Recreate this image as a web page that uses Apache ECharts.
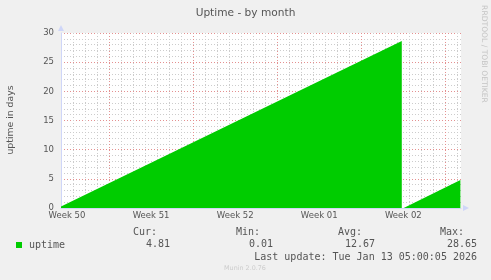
<!DOCTYPE html>
<html>
<head>
<meta charset="utf-8">
<script src="https://cdn.jsdelivr.net/npm/echarts@6/dist/echarts.min.js"></script>
<style>
html,body{margin:0;padding:0;background:#f0f0f0;}
#chart{width:491px;height:280px;}
</style>
</head>
<body>
<div id="chart"></div>
<script>
// ---- data ----
const titleText = 'Uptime - by month';
const yAxisName = 'uptime in days';
const seriesName = 'uptime';
// time in days since Mon 8 Dec 2025 (start of week 50)
const xDays = [3.0, 31.37, 31.4, 31.53, 36.25];
const uptimeDays = [0.25, 28.65, null, 0.01, 4.81];
const weekBoundaries = [7, 14, 21, 28, 35];
const weekCenters = [3.5, 10.5, 17.5, 24.5, 31.5];
const weekLabels = ['Week 50', 'Week 51', 'Week 52', 'Week 01', 'Week 02'];
const statLabels = ['Cur:', 'Min:', 'Avg:', 'Max:'];
const statValues = ['4.81', '0.01', '12.67', '28.65'];
const lastUpdate = 'Last update: Tue Jan 13 05:00:05 2026';
const sideText = 'RRDTOOL / TOBI OETIKER';
const footer = 'Munin 2.0.76';

// ---- styles ----
const GRAY = '#cccccc';
const RED = '#e49090';
const RED_V = '#e49090';
const AXIS = '#CFD6F8';
const FONT = 'DejaVu Sans';
const MONO = 'DejaVu Sans Mono';
const TXT = '#555555';
const DOT = [1, 2];

const chart = echarts.init(document.getElementById('chart'), null, {renderer: 'canvas'});
const seriesData = xDays.map((x, i) => [x, uptimeDays[i]]);

const statGraphics = [];
const headerRight = [157, 260, 362, 464];
const valueRight = [170, 273, 375, 477];
statLabels.forEach((s, i) => {
  statGraphics.push({type: 'text', x: headerRight[i], y: 232.5,
    style: {text: s, font: '10px "' + MONO + '"', fill: TXT, align: 'right', verticalAlign: 'middle'}});
  statGraphics.push({type: 'text', x: valueRight[i], y: 244,
    style: {text: statValues[i], font: '10px "' + MONO + '"', fill: TXT, align: 'right', verticalAlign: 'middle'}});
});

const X_MIN = 3, X_MAX = 36.3;

chart.setOption({
  animation: false,
  backgroundColor: '#f0f0f0',
  title: {
    text: titleText, left: 'center', top: 3,
    textStyle: {fontFamily: FONT, fontSize: 10.6, fontWeight: 'normal', color: TXT}
  },
  grid: {left: 61, right: 30, top: 33, bottom: 72, backgroundColor: '#ffffff', show: true, borderWidth: 0},
  legend: {
    left: 11, top: 235, icon: 'rect', itemWidth: 6, itemHeight: 6, itemGap: 10,
    data: [seriesName],
    textStyle: {fontFamily: MONO, fontSize: 10, color: TXT, padding: [0, 0, 0, 2]}
  },
  xAxis: [{
    type: 'value', min: X_MIN, max: X_MAX, interval: 1, position: 'bottom',
    axisLine: {show: true, onZero: false, lineStyle: {color: AXIS, width: 1}, symbol: ['none', 'triangle'], symbolSize: [6, 6], symbolOffset: [0, 5]},
    axisTick: {show: false},
    axisLabel: {show: false},
    splitLine: {show: true, showMaxLine: false, lineStyle: {color: GRAY, type: DOT, width: 1}}
  }, {
    type: 'value', min: X_MIN, max: X_MAX, interval: 0.5, position: 'bottom', offset: 0,
    axisLine: {show: false},
    axisTick: {show: false},
    splitLine: {show: false},
    axisLabel: {
      fontFamily: FONT, fontSize: 8.5, color: TXT, margin: 3,
      formatter: function (v) {
        for (let i = 0; i < weekCenters.length; i++) if (Math.abs(v - weekCenters[i]) < 1e-6) return weekLabels[i];
        return '';
      }
    }
  }],
  yAxis: [{
    type: 'value', min: 0, max: 30, interval: 1, position: 'left',
    axisLine: {show: false},
    axisTick: {show: false},
    axisLabel: {show: false},
    splitLine: {show: true, lineStyle: {color: GRAY, type: DOT, width: 1}}
  }, {
    type: 'value', min: 0, max: 30, interval: 5, position: 'left', offset: 0,
    axisLine: {show: true, onZero: false, lineStyle: {color: AXIS, width: 1}, symbol: ['none', 'triangle'], symbolSize: [6, 6], symbolOffset: [0, 5]},
    axisTick: {show: false},
    splitLine: {show: true, lineStyle: {color: RED, type: DOT, width: 1}},
    axisLabel: {fontFamily: FONT, fontSize: 8.5, color: TXT, margin: 7}
  }],
  series: [{
    name: 'weekgrid', type: 'line', data: [], z: 1, silent: true,
    xAxisIndex: 0, yAxisIndex: 0,
    markLine: {
      silent: true, z: 1, symbol: ['none', 'none'], label: {show: false}, animation: false,
      emphasis: {disabled: true},
      lineStyle: {color: RED_V, type: DOT, width: 1},
      data: weekBoundaries.map(d => ({xAxis: d}))
    }
  }, {
    name: seriesName, type: 'line', data: seriesData, z: 10,
    xAxisIndex: 0, yAxisIndex: 0,
    showSymbol: false, connectNulls: false,
    itemStyle: {color: '#00CC00'},
    lineStyle: {width: 0, color: '#00CC00'},
    areaStyle: {color: '#00CC00', opacity: 1}
  }],
  graphic: [
    {type: 'text', x: 10.5, y: 120, rotation: Math.PI / 2,
      style: {text: yAxisName, font: '9.3px "' + FONT + '"', fill: TXT, align: 'center', verticalAlign: 'middle'}},
    {type: 'text', x: 484, y: 54, rotation: -Math.PI / 2,
      style: {text: sideText, font: '7.6px "' + FONT + '"', fill: '#c4c4c4', align: 'center', verticalAlign: 'middle'}},
    {type: 'text', x: 477, y: 257,
      style: {text: lastUpdate, font: '10px "' + MONO + '"', fill: TXT, align: 'right', verticalAlign: 'middle'}},
    {type: 'text', x: 245, y: 268,
      style: {text: footer, font: '6.4px "' + FONT + '"', fill: '#cccccc', align: 'center', verticalAlign: 'middle'}}
  ].concat(statGraphics)
});
</script>
</body>
</html>
